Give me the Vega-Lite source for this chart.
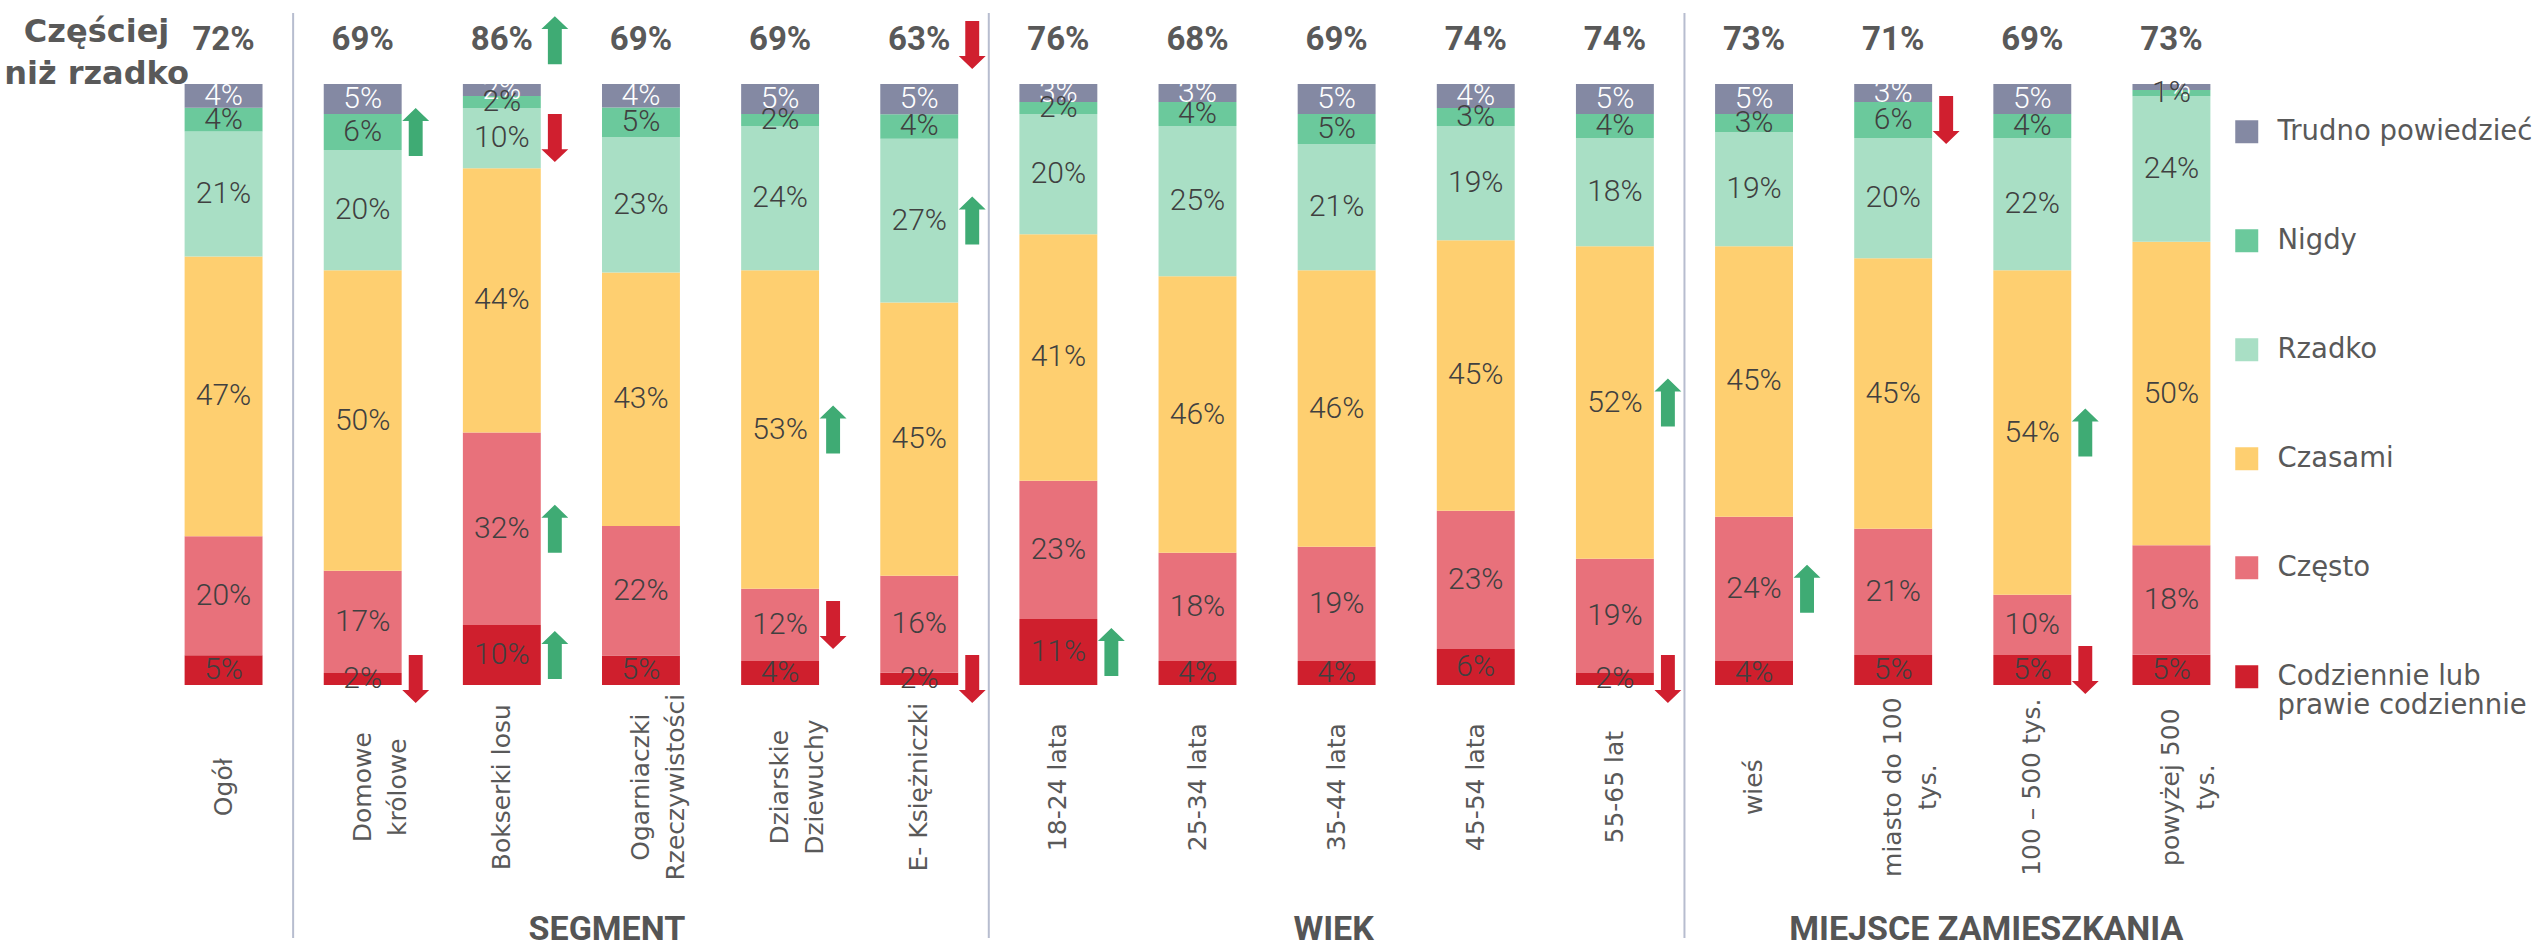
{
  "$schema": "https://vega.github.io/schema/vega-lite/v6.json",
  "width": 2087,
  "height": 601,
  "autosize": {"type": "none"},
  "padding": {"left": 154, "top": 84, "right": 303, "bottom": 262},
  "background": "white",
  "datasets": {
    "resp": [
      {"o": "Codziennie lub prawie codziennie", "r": 1},
      {"o": "Często", "r": 2},
      {"o": "Czasami", "r": 3},
      {"o": "Rzadko", "r": 4},
      {"o": "Nigdy", "r": 5},
      {"o": "Trudno powiedzieć", "r": 6}
    ],
    "seg": [
      {"k": "Ogół", "o": "Codziennie lub prawie codziennie", "v": 0.05},
      {"k": "Ogół", "o": "Często", "v": 0.20},
      {"k": "Ogół", "o": "Czasami", "v": 0.47},
      {"k": "Ogół", "o": "Rzadko", "v": 0.21},
      {"k": "Ogół", "o": "Nigdy", "v": 0.04},
      {"k": "Ogół", "o": "Trudno powiedzieć", "v": 0.04},
      {"k": "Domowe\nkrólowe", "o": "Codziennie lub prawie codziennie", "v": 0.02, "a": "down"},
      {"k": "Domowe\nkrólowe", "o": "Często", "v": 0.17},
      {"k": "Domowe\nkrólowe", "o": "Czasami", "v": 0.50},
      {"k": "Domowe\nkrólowe", "o": "Rzadko", "v": 0.20},
      {"k": "Domowe\nkrólowe", "o": "Nigdy", "v": 0.06, "a": "up"},
      {"k": "Domowe\nkrólowe", "o": "Trudno powiedzieć", "v": 0.05},
      {"k": "Bokserki losu", "o": "Codziennie lub prawie codziennie", "v": 0.10, "a": "up"},
      {"k": "Bokserki losu", "o": "Często", "v": 0.32, "a": "up"},
      {"k": "Bokserki losu", "o": "Czasami", "v": 0.44},
      {"k": "Bokserki losu", "o": "Rzadko", "v": 0.10, "a": "down"},
      {"k": "Bokserki losu", "o": "Nigdy", "v": 0.02},
      {"k": "Bokserki losu", "o": "Trudno powiedzieć", "v": 0.02},
      {"k": "Ogarniaczki\nRzeczywistości", "o": "Codziennie lub prawie codziennie", "v": 0.05},
      {"k": "Ogarniaczki\nRzeczywistości", "o": "Często", "v": 0.22},
      {"k": "Ogarniaczki\nRzeczywistości", "o": "Czasami", "v": 0.43},
      {"k": "Ogarniaczki\nRzeczywistości", "o": "Rzadko", "v": 0.23},
      {"k": "Ogarniaczki\nRzeczywistości", "o": "Nigdy", "v": 0.05},
      {"k": "Ogarniaczki\nRzeczywistości", "o": "Trudno powiedzieć", "v": 0.04},
      {"k": "Dziarskie\nDziewuchy", "o": "Codziennie lub prawie codziennie", "v": 0.04},
      {"k": "Dziarskie\nDziewuchy", "o": "Często", "v": 0.12, "a": "down"},
      {"k": "Dziarskie\nDziewuchy", "o": "Czasami", "v": 0.53, "a": "up"},
      {"k": "Dziarskie\nDziewuchy", "o": "Rzadko", "v": 0.24},
      {"k": "Dziarskie\nDziewuchy", "o": "Nigdy", "v": 0.02},
      {"k": "Dziarskie\nDziewuchy", "o": "Trudno powiedzieć", "v": 0.05},
      {"k": "E- Księżniczki", "o": "Codziennie lub prawie codziennie", "v": 0.02, "a": "down"},
      {"k": "E- Księżniczki", "o": "Często", "v": 0.16},
      {"k": "E- Księżniczki", "o": "Czasami", "v": 0.45},
      {"k": "E- Księżniczki", "o": "Rzadko", "v": 0.27, "a": "up"},
      {"k": "E- Księżniczki", "o": "Nigdy", "v": 0.04},
      {"k": "E- Księżniczki", "o": "Trudno powiedzieć", "v": 0.05},
      {"k": "18-24 lata", "o": "Codziennie lub prawie codziennie", "v": 0.11, "a": "up"},
      {"k": "18-24 lata", "o": "Często", "v": 0.23},
      {"k": "18-24 lata", "o": "Czasami", "v": 0.41},
      {"k": "18-24 lata", "o": "Rzadko", "v": 0.20},
      {"k": "18-24 lata", "o": "Nigdy", "v": 0.02},
      {"k": "18-24 lata", "o": "Trudno powiedzieć", "v": 0.03},
      {"k": "25-34 lata", "o": "Codziennie lub prawie codziennie", "v": 0.04},
      {"k": "25-34 lata", "o": "Często", "v": 0.18},
      {"k": "25-34 lata", "o": "Czasami", "v": 0.46},
      {"k": "25-34 lata", "o": "Rzadko", "v": 0.25},
      {"k": "25-34 lata", "o": "Nigdy", "v": 0.04},
      {"k": "25-34 lata", "o": "Trudno powiedzieć", "v": 0.03},
      {"k": "35-44 lata", "o": "Codziennie lub prawie codziennie", "v": 0.04},
      {"k": "35-44 lata", "o": "Często", "v": 0.19},
      {"k": "35-44 lata", "o": "Czasami", "v": 0.46},
      {"k": "35-44 lata", "o": "Rzadko", "v": 0.21},
      {"k": "35-44 lata", "o": "Nigdy", "v": 0.05},
      {"k": "35-44 lata", "o": "Trudno powiedzieć", "v": 0.05},
      {"k": "45-54 lata", "o": "Codziennie lub prawie codziennie", "v": 0.06},
      {"k": "45-54 lata", "o": "Często", "v": 0.23},
      {"k": "45-54 lata", "o": "Czasami", "v": 0.45},
      {"k": "45-54 lata", "o": "Rzadko", "v": 0.19},
      {"k": "45-54 lata", "o": "Nigdy", "v": 0.03},
      {"k": "45-54 lata", "o": "Trudno powiedzieć", "v": 0.04},
      {"k": "55-65 lat", "o": "Codziennie lub prawie codziennie", "v": 0.02, "a": "down"},
      {"k": "55-65 lat", "o": "Często", "v": 0.19},
      {"k": "55-65 lat", "o": "Czasami", "v": 0.52, "a": "up"},
      {"k": "55-65 lat", "o": "Rzadko", "v": 0.18},
      {"k": "55-65 lat", "o": "Nigdy", "v": 0.04},
      {"k": "55-65 lat", "o": "Trudno powiedzieć", "v": 0.05},
      {"k": "wieś", "o": "Codziennie lub prawie codziennie", "v": 0.04},
      {"k": "wieś", "o": "Często", "v": 0.24, "a": "up"},
      {"k": "wieś", "o": "Czasami", "v": 0.45},
      {"k": "wieś", "o": "Rzadko", "v": 0.19},
      {"k": "wieś", "o": "Nigdy", "v": 0.03},
      {"k": "wieś", "o": "Trudno powiedzieć", "v": 0.05},
      {"k": "miasto do 100\ntys.", "o": "Codziennie lub prawie codziennie", "v": 0.05},
      {"k": "miasto do 100\ntys.", "o": "Często", "v": 0.21},
      {"k": "miasto do 100\ntys.", "o": "Czasami", "v": 0.45},
      {"k": "miasto do 100\ntys.", "o": "Rzadko", "v": 0.20},
      {"k": "miasto do 100\ntys.", "o": "Nigdy", "v": 0.06, "a": "down"},
      {"k": "miasto do 100\ntys.", "o": "Trudno powiedzieć", "v": 0.03},
      {"k": "100 – 500 tys.", "o": "Codziennie lub prawie codziennie", "v": 0.05, "a": "down"},
      {"k": "100 – 500 tys.", "o": "Często", "v": 0.10},
      {"k": "100 – 500 tys.", "o": "Czasami", "v": 0.54, "a": "up"},
      {"k": "100 – 500 tys.", "o": "Rzadko", "v": 0.22},
      {"k": "100 – 500 tys.", "o": "Nigdy", "v": 0.04},
      {"k": "100 – 500 tys.", "o": "Trudno powiedzieć", "v": 0.05},
      {"k": "powyżej 500\ntys.", "o": "Codziennie lub prawie codziennie", "v": 0.05},
      {"k": "powyżej 500\ntys.", "o": "Często", "v": 0.18},
      {"k": "powyżej 500\ntys.", "o": "Czasami", "v": 0.50},
      {"k": "powyżej 500\ntys.", "o": "Rzadko", "v": 0.24},
      {"k": "powyżej 500\ntys.", "o": "Nigdy", "v": 0.01},
      {"k": "powyżej 500\ntys.", "o": "Trudno powiedzieć", "v": 0.01}
    ],
    "top": [
      {"k": "Ogół", "p": 0.72},
      {"k": "Domowe\nkrólowe", "p": 0.69},
      {"k": "Bokserki losu", "p": 0.86, "a": "up"},
      {"k": "Ogarniaczki\nRzeczywistości", "p": 0.69},
      {"k": "Dziarskie\nDziewuchy", "p": 0.69},
      {"k": "E- Księżniczki", "p": 0.63, "a": "down"},
      {"k": "18-24 lata", "p": 0.76},
      {"k": "25-34 lata", "p": 0.68},
      {"k": "35-44 lata", "p": 0.69},
      {"k": "45-54 lata", "p": 0.74},
      {"k": "55-65 lat", "p": 0.74},
      {"k": "wieś", "p": 0.73},
      {"k": "miasto do 100\ntys.", "p": 0.71},
      {"k": "100 – 500 tys.", "p": 0.69},
      {"k": "powyżej 500\ntys.", "p": 0.73}
    ],
    "sep": [
      {"k": "Domowe\nkrólowe"},
      {"k": "18-24 lata"},
      {"k": "wieś"}
    ],
    "grp": [
      {"k": "Ogarniaczki\nRzeczywistości", "g": "SEGMENT"},
      {"k": "35-44 lata", "g": "WIEK"},
      {"k": "100 – 500 tys.", "g": "MIEJSCE ZAMIESZKANIA"}
    ]
  },
  "encoding": {
    "x": {
      "field": "k",
      "type": "nominal",
      "axis": null,
      "scale": {
        "type": "band",
        "domain": ["Ogół", "Domowe\nkrólowe", "Bokserki losu", "Ogarniaczki\nRzeczywistości", "Dziarskie\nDziewuchy", "E- Księżniczki", "18-24 lata", "25-34 lata", "35-44 lata", "45-54 lata", "55-65 lat", "wieś", "miasto do 100\ntys.", "100 – 500 tys.", "powyżej 500\ntys."],
        "paddingInner": 0.44,
        "paddingOuter": 0.22
      }
    }
  },
  "layer": [
    {
      "data": {"name": "sep"},
      "mark": {"type": "rule", "color": "#b7bdcf", "strokeWidth": 2, "xOffset": -69.57},
      "encoding": {
        "y": {"datum": 1.118, "type": "quantitative", "scale": {"domain": [0, 1], "nice": false}, "axis": null},
        "y2": {"datum": -0.421}
      }
    },
    {
      "data": {"values": [{"k": "Ogół"}]},
      "mark": {"type": "text", "text": ["Częściej", "niż rzadko"], "font": "DejaVu Sans", "fontSize": 32, "fontWeight": "bold", "color": "#595959", "align": "center", "baseline": "alphabetic", "lineHeight": 42, "dx": -127},
      "encoding": {
        "y": {"datum": 1.07, "type": "quantitative", "scale": {"domain": [0, 1], "nice": false}, "axis": null}
      }
    },
    {
      "data": {"name": "seg"},
      "transform": [{"lookup": "o", "from": {"data": {"name": "resp"}, "key": "o", "fields": ["r"]}}],
      "mark": {"type": "bar"},
      "encoding": {
        "y": {"field": "v", "type": "quantitative", "stack": "normalize", "scale": {"domain": [0, 1], "nice": false}, "axis": null},
        "order": {"field": "r", "type": "quantitative"},
        "color": {
          "field": "o",
          "type": "nominal",
          "scale": {
            "domain": ["Trudno powiedzieć", "Nigdy", "Rzadko", "Czasami", "Często", "Codziennie lub prawie codziennie"],
            "range": ["#8489a3", "#6bc99c", "#a9dfc5", "#fecf70", "#e8717b", "#cf1f2d"]
          },
          "legend": {
            "orient": "none",
            "legendX": 2079,
            "legendY": 34,
            "title": null,
            "symbolType": "square",
            "symbolSize": 529,
            "symbolStrokeWidth": 0,
            "labelFont": "DejaVu Sans",
            "labelFontSize": 27.5,
            "labelColor": "#595959",
            "labelOffset": 17,
            "labelLimit": 400,
            "rowPadding": 80,
            "padding": 0,
            "labelExpr": "datum.label == 'Codziennie lub prawie codziennie' ? ['Codziennie lub', 'prawie codziennie'] : datum.label",
            "encode": {
              "symbols": {"update": {"fill": {"signal": "datum.value === 'Trudno powiedzieć' ? '#a6a6a6' : scale('color', datum.value)"}}}
            }
          }
        }
      }
    },
    {
      "data": {"name": "seg"},
      "transform": [{"lookup": "o", "from": {"data": {"name": "resp"}, "key": "o", "fields": ["r"]}}],
      "mark": {"type": "text", "font": "Roboto", "fontSize": 30, "fontWeight": 300, "color": "white", "baseline": "middle"},
      "encoding": {
        "y": {"field": "v", "type": "quantitative", "stack": "normalize", "bandPosition": 0.5, "scale": {"domain": [0, 1], "nice": false}, "axis": null},
        "order": {"field": "r", "type": "quantitative"},
        "detail": {"field": "o"},
        "text": {"field": "v", "type": "quantitative", "format": ".0%"},
        "opacity": {"condition": {"test": "datum.o === 'Trudno powiedzieć'", "value": 1}, "value": 0}
      }
    },
    {
      "data": {"name": "seg"},
      "transform": [{"lookup": "o", "from": {"data": {"name": "resp"}, "key": "o", "fields": ["r"]}}],
      "mark": {"type": "text", "font": "Roboto", "fontSize": 30, "fontWeight": 300, "color": "#404040", "baseline": "middle"},
      "encoding": {
        "y": {"field": "v", "type": "quantitative", "stack": "normalize", "bandPosition": 0.5, "scale": {"domain": [0, 1], "nice": false}, "axis": null},
        "order": {"field": "r", "type": "quantitative"},
        "detail": {"field": "o"},
        "text": {"field": "v", "type": "quantitative", "format": ".0%"},
        "opacity": {"condition": {"test": "datum.o === 'Trudno powiedzieć'", "value": 0}, "value": 1}
      }
    },
    {
      "data": {"name": "seg"},
      "transform": [{"lookup": "o", "from": {"data": {"name": "resp"}, "key": "o", "fields": ["r"]}}],
      "mark": {"type": "point", "filled": true, "strokeWidth": 0, "size": 2304, "xOffset": 53, "color": "#3fab74",
        "shape": "M0,-1 L0.56,-0.46 L0.29,-0.46 L0.29,1 L-0.29,1 L-0.29,-0.46 L-0.56,-0.46 Z"},
      "encoding": {
        "y": {"field": "v", "type": "quantitative", "stack": "normalize", "bandPosition": 0.5, "scale": {"domain": [0, 1], "nice": false}, "axis": null},
        "order": {"field": "r", "type": "quantitative"},
        "detail": {"field": "o"},
        "opacity": {"condition": {"test": "datum.a === 'up'", "value": 1}, "value": 0}
      }
    },
    {
      "data": {"name": "seg"},
      "transform": [{"lookup": "o", "from": {"data": {"name": "resp"}, "key": "o", "fields": ["r"]}}],
      "mark": {"type": "point", "filled": true, "strokeWidth": 0, "size": 2304, "xOffset": 53, "color": "#d01f2f",
        "shape": "M0,1 L0.56,0.46 L0.29,0.46 L0.29,-1 L-0.29,-1 L-0.29,0.46 L-0.56,0.46 Z"},
      "encoding": {
        "y": {"field": "v", "type": "quantitative", "stack": "normalize", "bandPosition": 0.5, "scale": {"domain": [0, 1], "nice": false}, "axis": null},
        "order": {"field": "r", "type": "quantitative"},
        "detail": {"field": "o"},
        "opacity": {"condition": {"test": "datum.a === 'down'", "value": 1}, "value": 0}
      }
    },
    {
      "data": {"name": "top"},
      "mark": {"type": "text", "font": "Roboto", "fontSize": 33, "fontWeight": "bold", "color": "#595959", "baseline": "middle"},
      "encoding": {
        "y": {"datum": 1.073, "type": "quantitative", "scale": {"domain": [0, 1], "nice": false}, "axis": null},
        "text": {"field": "p", "type": "quantitative", "format": ".0%"}
      }
    },
    {
      "data": {"name": "top"},
      "transform": [{"filter": "datum.a === 'up'"}],
      "mark": {"type": "point", "filled": true, "opacity": 1, "strokeWidth": 0, "size": 2304, "xOffset": 53, "color": "#3fab74",
        "shape": "M0,-1 L0.56,-0.46 L0.29,-0.46 L0.29,1 L-0.29,1 L-0.29,-0.46 L-0.56,-0.46 Z"},
      "encoding": {
        "y": {"datum": 1.073, "type": "quantitative", "scale": {"domain": [0, 1], "nice": false}, "axis": null}
      }
    },
    {
      "data": {"name": "top"},
      "transform": [{"filter": "datum.a === 'down'"}],
      "mark": {"type": "point", "filled": true, "opacity": 1, "strokeWidth": 0, "size": 2304, "xOffset": 53, "color": "#d01f2f",
        "shape": "M0,1 L0.56,0.46 L0.29,0.46 L0.29,-1 L-0.29,-1 L-0.29,0.46 L-0.56,0.46 Z"},
      "encoding": {
        "y": {"datum": 1.065, "type": "quantitative", "scale": {"domain": [0, 1], "nice": false}, "axis": null}
      }
    },
    {
      "data": {"name": "top"},
      "mark": {"type": "text", "font": "DejaVu Sans", "fontSize": 25, "color": "#595959", "angle": 270, "align": "center", "baseline": "middle", "lineBreak": "\n", "lineHeight": 35},
      "encoding": {
        "y": {"datum": -0.17, "type": "quantitative", "scale": {"domain": [0, 1], "nice": false}, "axis": null},
        "text": {"field": "k"}
      }
    },
    {
      "data": {"name": "grp"},
      "transform": [{"filter": "datum.g === 'SEGMENT'"}],
      "mark": {"type": "text", "font": "Roboto", "fontSize": 34, "fontWeight": "bold", "color": "#555555", "baseline": "middle", "dx": -34},
      "encoding": {
        "y": {"datum": -0.408, "type": "quantitative", "scale": {"domain": [0, 1], "nice": false}, "axis": null},
        "text": {"field": "g"}
      }
    },
    {
      "data": {"name": "grp"},
      "transform": [{"filter": "datum.g === 'WIEK'"}],
      "mark": {"type": "text", "font": "Roboto", "fontSize": 34, "fontWeight": "bold", "color": "#555555", "baseline": "middle", "dx": -3},
      "encoding": {
        "y": {"datum": -0.408, "type": "quantitative", "scale": {"domain": [0, 1], "nice": false}, "axis": null},
        "text": {"field": "g"}
      }
    },
    {
      "data": {"name": "grp"},
      "transform": [{"filter": "datum.g === 'MIEJSCE ZAMIESZKANIA'"}],
      "mark": {"type": "text", "font": "Roboto", "fontSize": 34, "fontWeight": "bold", "color": "#555555", "baseline": "middle", "dx": -46},
      "encoding": {
        "y": {"datum": -0.408, "type": "quantitative", "scale": {"domain": [0, 1], "nice": false}, "axis": null},
        "text": {"field": "g"}
      }
    }
  ],
  "config": {
    "view": {"stroke": null}
  }
}
